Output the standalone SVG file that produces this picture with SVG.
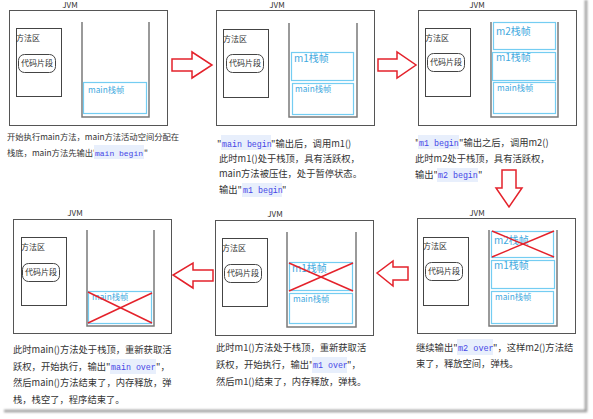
<svg xmlns="http://www.w3.org/2000/svg" width="593" height="419" viewBox="0 0 593 419">
<defs>
<filter id="blur" x="-10%" y="-10%" width="120%" height="120%"><feGaussianBlur stdDeviation="0.9"/></filter>
</defs>
<style>
.jvm{fill:none;stroke:#555;stroke-width:1}
.ma{fill:none;stroke:#444;stroke-width:1}
.code{fill:#fff;stroke:#444;stroke-width:1}
.stk{fill:none;stroke:#7a7a7a;stroke-width:1.5}
.frm{fill:none;stroke:#74cdf2;stroke-width:1.2}
.x{stroke:#e4222b;stroke-width:1.5}
.arr{fill:#fff;stroke:#e4222b;stroke-width:1.5;stroke-linejoin:miter}
text{font-family:"Noto Sans CJK SC","Microsoft YaHei","Noto Sans",sans-serif;fill:#333}
.s{font-size:8px}
.t{font-size:9.3px}
.t1{font-size:8.3px}
.fl{font-size:10px;fill:#3fa9de}
.fm{font-size:8.3px;fill:#3fa9de}
.mono{font-family:"Liberation Mono","DejaVu Sans Mono",monospace;font-size:8.3px;fill:#4646e6}
.hl{fill:#e8effc}
</style>
<rect width="593" height="419" fill="#fff"/>
<path d="M586,0 V411 H4" fill="none" stroke="#9a9a9a" stroke-width="2.5" filter="url(#blur)"/>

<g id="panel1">
<text x="70" y="8" class="s" text-anchor="middle">JVM</text>
<rect x="9.5" y="10.5" width="158" height="115" class="jvm"/>
<rect x="16.5" y="28.5" width="45" height="68" class="ma"/>
<text x="16" y="41" class="s">方法区</text>
<rect x="18.5" y="54.5" width="37" height="18" rx="6" class="code"/>
<text x="37" y="66" class="s" text-anchor="middle">代码片段</text>
<path d="M82,22 V117 H149 V22" class="stk"/>
<rect x="83.5" y="82.5" width="63" height="31" class="frm"/>
<text x="88" y="93" class="fm">main栈帧</text>
<text x="7" y="140" class="t1">开始执行main方法，main方法活动空间分配在</text>
<text x="7" y="156" class="t1">栈底，main方法先输出"</text>
<rect x="94" y="145" width="50" height="14" class="hl"/>
<text x="95" y="156" class="mono" style="font-size:8px">main begin</text>
<text x="144" y="156" class="t1">"</text>
</g>

<g id="panel2">
<text x="277" y="8" class="s" text-anchor="middle">JVM</text>
<rect x="216.5" y="10.5" width="158" height="115" class="jvm"/>
<rect x="223.5" y="29.5" width="45" height="68" class="ma"/>
<text x="223" y="42" class="s">方法区</text>
<rect x="226.5" y="54.5" width="37" height="18" rx="6" class="code"/>
<text x="245" y="66" class="s" text-anchor="middle">代码片段</text>
<path d="M289,23 V117 H357 V23" class="stk"/>
<rect x="291.5" y="52.5" width="62" height="28" class="frm"/>
<text x="294" y="62" class="fl">m1栈帧</text>
<rect x="292.5" y="83.5" width="61" height="31" class="frm"/>
<text x="295" y="92" class="fm">main栈帧</text>
<text x="217" y="147" class="t">"</text>
<rect x="221" y="135" width="50" height="15" class="hl"/>
<text x="222" y="147" class="mono">main begin</text>
<text x="271" y="147" class="t">"输出后，调用m1()</text>
<text x="219" y="162" class="t">此时m1()处于栈顶，具有活跃权，</text>
<text x="219" y="177" class="t">main方法被压住，处于暂停状态。</text>
<text x="219" y="193" class="t">输出"</text>
<rect x="242" y="183" width="40" height="14" class="hl"/>
<text x="243" y="193" class="mono">m1 begin</text>
<text x="282" y="193" class="t">"</text>
</g>

<g id="panel3">
<text x="477" y="8" class="s" text-anchor="middle">JVM</text>
<rect x="418.5" y="10.5" width="158" height="115" class="jvm"/>
<rect x="425.5" y="28.5" width="45" height="68" class="ma"/>
<text x="425" y="41" class="s">方法区</text>
<rect x="427.5" y="53.5" width="37" height="18" rx="6" class="code"/>
<text x="446" y="65" class="s" text-anchor="middle">代码片段</text>
<path d="M491,22 V117 H558 V22" class="stk"/>
<rect x="493.5" y="22.5" width="62" height="27" class="frm"/>
<text x="496" y="35" class="fl">m2栈帧</text>
<rect x="492.5" y="52.5" width="63" height="28" class="frm"/>
<text x="496" y="61" class="fl">m1栈帧</text>
<rect x="493.5" y="82.5" width="62" height="31" class="frm"/>
<text x="497" y="91" class="fm">main栈帧</text>
<text x="415" y="146" class="t">"</text>
<rect x="418" y="135" width="41" height="14" class="hl"/>
<text x="419" y="146" class="mono">m1 begin</text>
<text x="459" y="146" class="t">"输出之后，调用m2()</text>
<text x="415" y="162" class="t">此时m2处于栈顶，具有活跃权，</text>
<text x="415" y="178" class="t">输出"</text>
<rect x="437" y="168" width="41" height="14" class="hl"/>
<text x="438" y="178" class="mono">m2 begin</text>
<text x="478" y="178" class="t">"</text>
</g>

<g id="panel4">
<text x="477" y="216" class="s" text-anchor="middle">JVM</text>
<rect x="417.5" y="218.5" width="158" height="115" class="jvm"/>
<rect x="423.5" y="237.5" width="45" height="68" class="ma"/>
<text x="423" y="249" class="s">方法区</text>
<rect x="425.5" y="262.5" width="37" height="18" rx="6" class="code"/>
<text x="444" y="274" class="s" text-anchor="middle">代码片段</text>
<path d="M489,230 V326 H557 V230" class="stk"/>
<rect x="491.5" y="231.5" width="62" height="26" class="frm"/>
<text x="494" y="244" class="fl">m2栈帧</text>
<line x1="492" y1="231" x2="554" y2="257" class="x"/>
<line x1="554" y1="231" x2="492" y2="257" class="x"/>
<rect x="491.5" y="260.5" width="63" height="28" class="frm"/>
<text x="494" y="269" class="fl">m1栈帧</text>
<rect x="491.5" y="291.5" width="62" height="32" class="frm"/>
<text x="495" y="300" class="fm">main栈帧</text>
<text x="416" y="351" class="t">继续输出"</text>
<rect x="457" y="339" width="36" height="16" class="hl"/>
<text x="458" y="351" class="mono" style="font-size:8.5px">m2 over</text>
<text x="493" y="351" class="t">"，这样m2()方法结</text>
<text x="416" y="367" class="t">束了，释放空间，弹栈。</text>
</g>

<g id="panel5">
<text x="275" y="217" class="s" text-anchor="middle">JVM</text>
<rect x="215.5" y="220.5" width="158" height="115" class="jvm"/>
<rect x="222.5" y="238.5" width="45" height="68" class="ma"/>
<text x="222" y="251" class="s">方法区</text>
<rect x="224.5" y="264.5" width="37" height="18" rx="6" class="code"/>
<text x="243" y="276" class="s" text-anchor="middle">代码片段</text>
<path d="M287,232 V327 H356 V232" class="stk"/>
<rect x="289.5" y="262.5" width="63" height="28" class="frm"/>
<text x="292" y="272" class="fl">m1栈帧</text>
<line x1="289" y1="263" x2="353" y2="291" class="x"/>
<line x1="353" y1="263" x2="289" y2="291" class="x"/>
<rect x="289.5" y="293.5" width="63" height="30" class="frm"/>
<text x="293" y="302" class="fm">main栈帧</text>
<text x="216" y="351" class="t">此时m1()方法处于栈顶，重新获取活</text>
<text x="216" y="368" class="t">跃权，开始执行，输出"</text>
<rect x="312" y="357" width="35" height="16" class="hl"/>
<text x="313" y="368" class="mono" style="font-size:8.3px">m1 over</text>
<text x="347" y="368" class="t">"，</text>
<text x="216" y="385" class="t">然后m1()结束了，内存释放，弹栈。</text>
</g>

<g id="panel6">
<text x="75" y="216" class="s" text-anchor="middle">JVM</text>
<rect x="13.5" y="219.5" width="158" height="114" class="jvm"/>
<rect x="21.5" y="237.5" width="45" height="68" class="ma"/>
<text x="21" y="250" class="s">方法区</text>
<rect x="22.5" y="263.5" width="37" height="18" rx="6" class="code"/>
<text x="41" y="275" class="s" text-anchor="middle">代码片段</text>
<path d="M87,230 V326 H154 V230" class="stk"/>
<rect x="88.5" y="291.5" width="63" height="32" class="frm"/>
<text x="92" y="300" class="fm">main栈帧</text>
<line x1="88" y1="292" x2="152" y2="323" class="x"/>
<line x1="152" y1="293" x2="88" y2="323" class="x"/>
<text x="13" y="353" class="t">此时main()方法处于栈顶，重新获取活</text>
<text x="13" y="370" class="t">跃权，开始执行，输出"</text>
<rect x="110" y="359" width="46" height="15" class="hl"/>
<text x="111" y="370" class="mono">main over</text>
<text x="156" y="370" class="t">"，</text>
<text x="13" y="386" class="t">然后main()方法结束了，内存释放，弹</text>
<text x="13" y="403" class="t">栈，栈空了，程序结束了。</text>
</g>

<g id="connectors">
<polygon class="arr" points="172,59 192,59 192,52 212,65 192,78 192,71 172,71"/>
<polygon class="arr" points="378,59 397,59 397,52 416,65 397,78 397,71 378,71"/>
<polygon class="arr" points="502,170 516,170 516,188 522,188 509,207 496,188 502,188"/>
<polygon class="arr" points="408,267 393,267 393,261 377,273 393,286 393,280 408,280"/>
<polygon class="arr" points="213,270 193,270 193,263 173,275 193,288 193,281 213,281"/>
</g>
</svg>
